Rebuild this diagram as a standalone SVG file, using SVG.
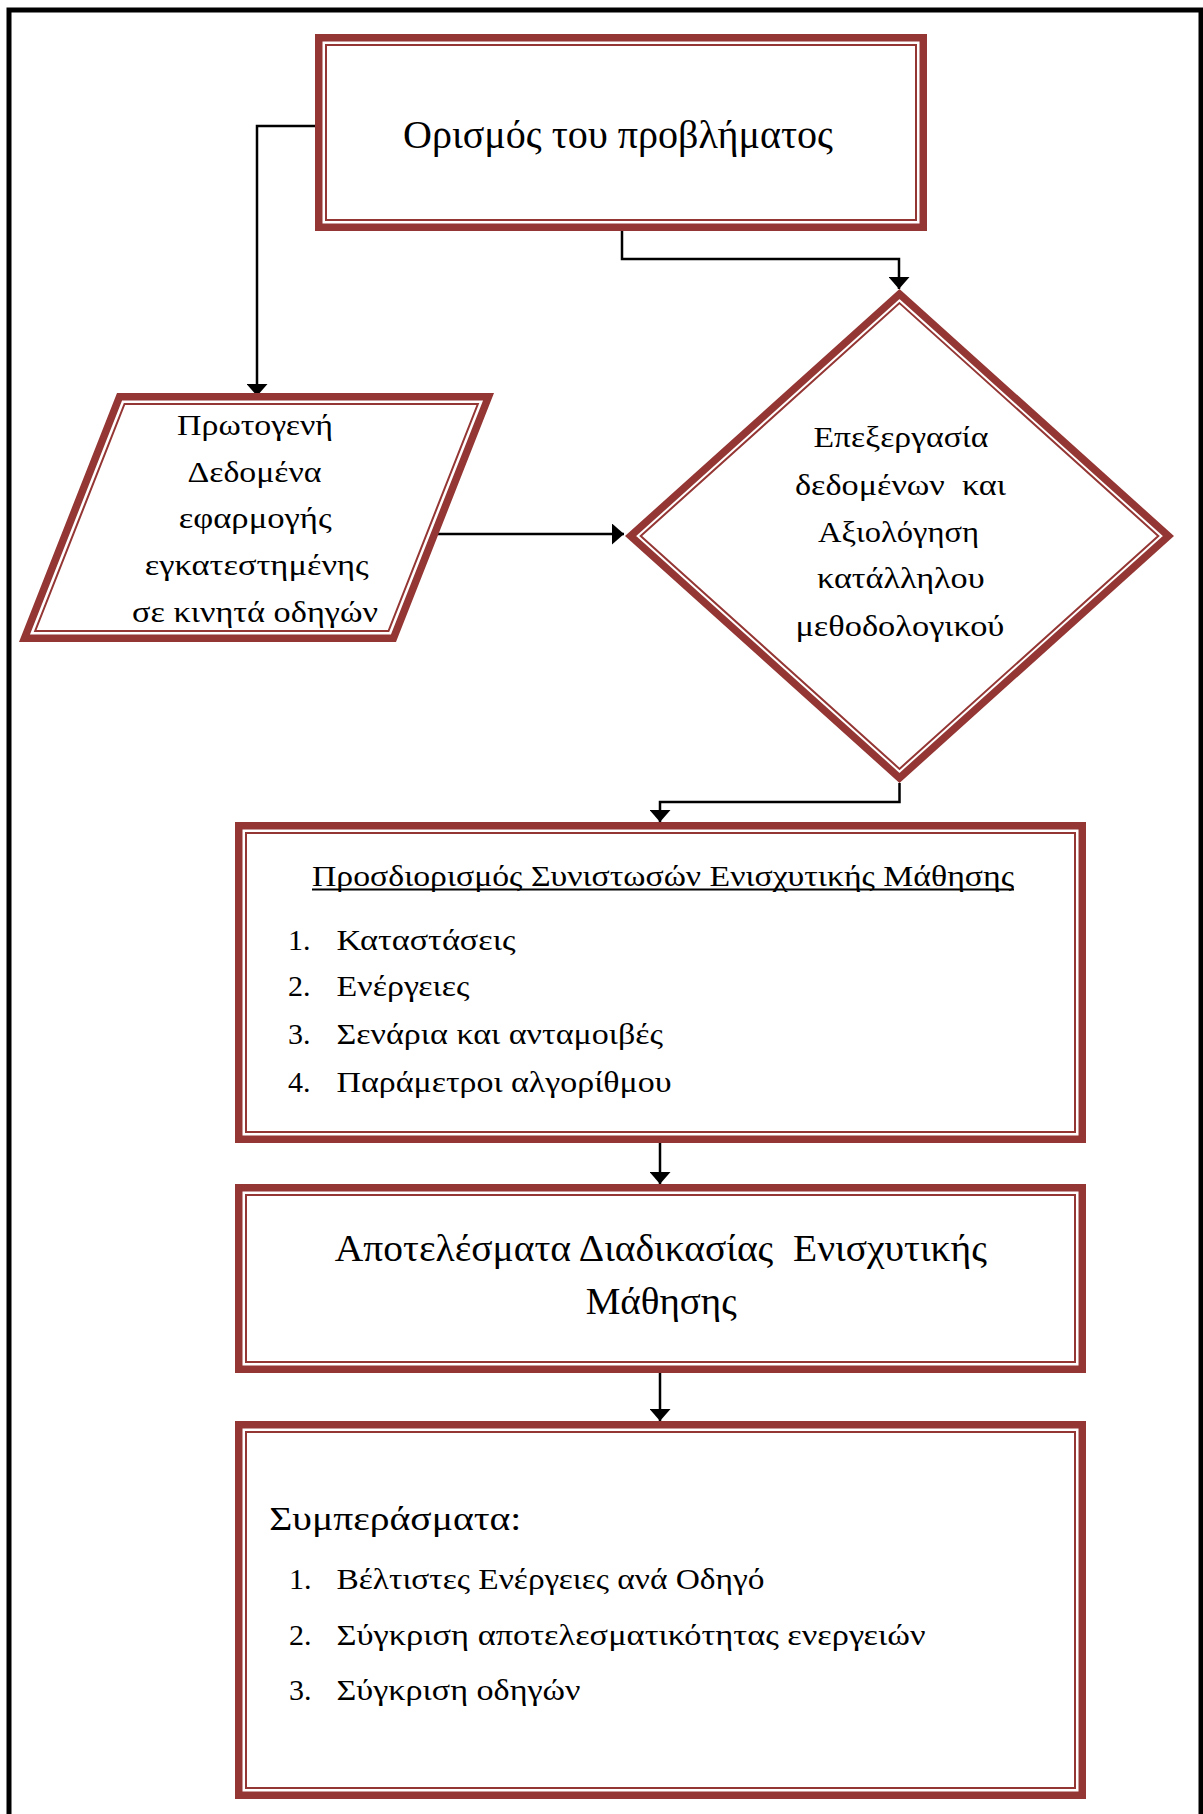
<svg xmlns="http://www.w3.org/2000/svg" width="1203" height="1814" viewBox="0 0 1203 1814">
<style>
.thick{fill:none;stroke:#943634;stroke-width:7.5;stroke-linejoin:miter}
.thin{fill:none;stroke:#943634;stroke-width:2}
.t{font-family:"Liberation Serif","DejaVu Serif",serif;fill:#000}
.conn{fill:none;stroke:#000;stroke-width:2.5}
</style>
<defs>
<marker id="arr" markerUnits="userSpaceOnUse" markerWidth="12" markerHeight="21" refX="12" refY="10.5" orient="auto">
<path d="M0,0 L12,10.5 L0,21 Z" fill="#000"/>
</marker>
</defs>
<rect x="0" y="0" width="1203" height="1814" fill="#fff"/>
<rect id="frame" x="9" y="10" width="1192" height="1900" fill="none" stroke="#000" stroke-width="5"/>

<g id="connectors">
<path class="conn" d="M315,126 H257 V396" marker-end="url(#arr)"/>
<path class="conn" d="M622,231 V259 H899 V289" marker-end="url(#arr)"/>
<path class="conn" d="M438,534 H624" marker-end="url(#arr)"/>
<path class="conn" d="M899.5,783 V802 H660 V822" marker-end="url(#arr)"/>
<path class="conn" d="M660,1143 V1184" marker-end="url(#arr)"/>
<path class="conn" d="M660,1373 V1421" marker-end="url(#arr)"/>
</g>

<g id="n1">
<rect class="thick" x="318.75" y="37.75" width="604.5" height="189.5" fill="#fff"/>
<rect class="thin" x="326" y="45" width="590" height="175"/>
<text class="t" x="403" y="147.5" font-size="39" textLength="430" lengthAdjust="spacingAndGlyphs">Ορισμός του προβλήματος</text>
</g>

<g id="n2">
<polygon class="thick" points="119.56,396.75 488.5,396.75 393.45,638.25 24.51,638.25" fill="#fff"/>
<polygon class="thin" points="124.51,404 477.85,404 388.5,631 35.16,631"/>
<g class="t" font-size="28.5">
<text x="177" y="435" textLength="156" lengthAdjust="spacingAndGlyphs">Πρωτογενή</text>
<text x="187.5" y="482" textLength="134" lengthAdjust="spacingAndGlyphs">Δεδομένα</text>
<text x="178.7" y="528" textLength="153" lengthAdjust="spacingAndGlyphs">εφαρμογής</text>
<text x="144.7" y="575" textLength="224" lengthAdjust="spacingAndGlyphs">εγκατεστημένης</text>
<text x="132" y="622" textLength="246" lengthAdjust="spacingAndGlyphs">σε κινητά οδηγών</text>
</g>
</g>

<g id="n3">
<polygon class="thick" points="899.5,294.05 1168.39,536 899.5,777.95 630.61,536" fill="#fff"/>
<polygon class="thin" points="899.5,303.13 1158.3,536 899.5,768.87 640.7,536"/>
<g class="t" font-size="28.5">
<text x="813.5" y="447" textLength="175" lengthAdjust="spacingAndGlyphs">Επεξεργασία</text>
<text x="795" y="495" textLength="211" lengthAdjust="spacingAndGlyphs" xml:space="preserve">δεδομένων  και</text>
<text x="818" y="542" textLength="161" lengthAdjust="spacingAndGlyphs">Αξιολόγηση</text>
<text x="817" y="588" textLength="167.6" lengthAdjust="spacingAndGlyphs">κατάλληλου</text>
<text x="795.4" y="636" textLength="209" lengthAdjust="spacingAndGlyphs">μεθοδολογικού</text>
</g>
</g>

<g id="n4">
<rect class="thick" x="238.75" y="825.75" width="843.5" height="313.5" fill="#fff"/>
<rect class="thin" x="246" y="833" width="829" height="299"/>
<g class="t" font-size="29">
<text x="312" y="886" textLength="702" lengthAdjust="spacingAndGlyphs">Προσδιορισμός Συνιστωσών Ενισχυτικής Μάθησης</text>
<line x1="312" y1="889.5" x2="1014" y2="889.5" stroke="#000" stroke-width="1.8"/>
</g>
<g class="t" font-size="30">
<text x="288" y="950">1.</text>
<text x="336.5" y="950" textLength="179" lengthAdjust="spacingAndGlyphs">Καταστάσεις</text>
<text x="288" y="996">2.</text>
<text x="336.5" y="996" textLength="133" lengthAdjust="spacingAndGlyphs">Ενέργειες</text>
<text x="288" y="1044">3.</text>
<text x="336.5" y="1044" textLength="326.6" lengthAdjust="spacingAndGlyphs">Σενάρια και ανταμοιβές</text>
<text x="288" y="1092">4.</text>
<text x="336.5" y="1092" textLength="335" lengthAdjust="spacingAndGlyphs">Παράμετροι αλγορίθμου</text>
</g>
</g>

<g id="n5">
<rect class="thick" x="238.75" y="1187.75" width="843.5" height="181.5" fill="#fff"/>
<rect class="thin" x="246" y="1195" width="829" height="167"/>
<g class="t" font-size="38">
<text x="334.8" y="1261" textLength="652" lengthAdjust="spacingAndGlyphs" xml:space="preserve">Αποτελέσματα Διαδικασίας  Ενισχυτικής</text>
<text x="585.7" y="1314" textLength="151" lengthAdjust="spacingAndGlyphs">Μάθησης</text>
</g>
</g>

<g id="n6">
<rect class="thick" x="238.75" y="1424.75" width="843.5" height="370.5" fill="#fff"/>
<rect class="thin" x="246" y="1432" width="829" height="356"/>
<text class="t" x="269.3" y="1530" font-size="34" textLength="252" lengthAdjust="spacingAndGlyphs">Συμπεράσματα:</text>
<g class="t" font-size="30">
<text x="289" y="1589">1.</text>
<text x="336.5" y="1589" textLength="428" lengthAdjust="spacingAndGlyphs">Βέλτιστες Ενέργειες ανά Οδηγό</text>
<text x="289" y="1645">2.</text>
<text x="336.5" y="1645" textLength="589" lengthAdjust="spacingAndGlyphs">Σύγκριση αποτελεσματικότητας ενεργειών</text>
<text x="289" y="1700">3.</text>
<text x="336.5" y="1700" textLength="244" lengthAdjust="spacingAndGlyphs">Σύγκριση οδηγών</text>
</g>
</g>
</svg>
